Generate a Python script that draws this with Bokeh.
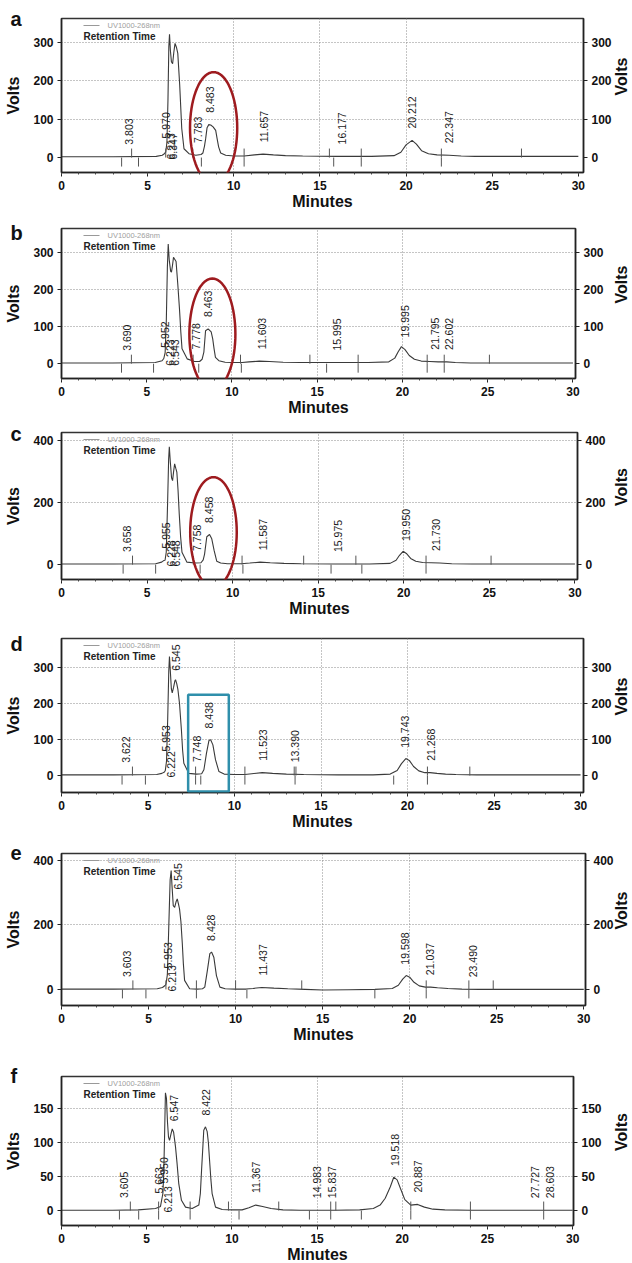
import numpy as np
from bokeh.plotting import figure
from bokeh.layouts import column
from bokeh.models import Range1d, LinearAxis, FixedTicker, PolyAnnotation, BoxAnnotation, Title
from bokeh.embed import file_html
from bokeh.resources import INLINE
from bokeh.core.properties import value

# ------------------------------------------------------------------ data
a_time = [0, 3.0, 5.5, 5.85, 5.97, 6.05, 6.12, 6.18, 6.23, 6.27, 6.32, 6.38, 6.45, 6.52, 6.59,
          6.67, 6.75, 6.86, 6.98, 7.11, 7.4, 7.8, 8.1, 8.21, 8.3, 8.37, 8.45, 8.55, 8.66, 8.8,
          8.95, 9.03, 9.12, 9.24, 9.53, 10.0, 10.6, 11.2, 11.7, 12.3, 13.0, 14.0, 16.0, 18.0,
          19.3, 19.7, 20.0, 20.35, 20.6, 20.9, 21.3, 21.8, 22.5, 23.2, 24.0, 26.0, 30.0]
a_volts = [2, 2, 3, 6, 10, 14, 40, 150, 290, 322, 280, 250, 245, 275, 298,
           288, 272, 190, 76, 23, 10, 6, 8, 12, 30, 50, 78, 86, 85, 80,
           71, 50, 28, 12, 6, 4, 4, 7, 9, 7, 5, 4, 3, 3,
           5, 14, 33, 45, 35, 18, 10, 7, 6, 4, 3, 3, 3]
a_peaks = ["3.803", "5.970", "6.213", "6.347", "7.783", "8.483", "11.657", "16.177", "20.212", "22.347"]
a_low = ["6.213", "6.347"]
a_marks_up = [4.07, 6.05, 7.62, 10.6, 15.55, 17.4, 22.05, 26.7]
a_marks_down = [3.49, 4.47, 8.12, 10.6, 15.8, 17.4, 22.05]

b_time = [0, 3.0, 5.5, 5.9, 6.0, 6.08, 6.15, 6.21, 6.26, 6.32, 6.4, 6.45, 6.51, 6.57, 6.64,
          6.72, 6.82, 6.92, 7.0, 7.07, 7.37, 7.8, 8.1, 8.25, 8.35, 8.45, 8.6, 8.78, 8.87, 8.95,
          9.03, 9.23, 9.6, 10.0, 10.6, 11.0, 11.6, 12.2, 13.0, 14.0, 16.0, 18.0, 19.2, 19.55,
          19.75, 19.94, 20.15, 20.4, 20.7, 21.1, 21.6, 22.1, 22.6, 23.1, 24.0, 26.0, 30.0]
b_volts = [2, 2, 3, 8, 14, 30, 120, 260, 323, 280, 250, 247, 265, 287, 282,
           276, 215, 148, 85, 40, 13, 6, 6, 12, 31, 89, 94, 86, 67, 40,
           17, 8, 4, 3, 3, 5, 7, 6, 4, 3, 3, 3, 5, 15,
           32, 46, 38, 22, 12, 7, 6, 5, 5, 3, 2, 2, 2]
b_peaks = ["3.690", "5.952", "6.223", "6.543", "7.778", "8.463", "11.603", "15.995", "19.995", "21.795", "22.602"]
b_low = ["6.223", "6.543"]
b_marks_up = [4.1, 7.72, 10.5, 14.57, 17.4, 21.45, 22.45, 25.1]
b_marks_down = [3.52, 5.4, 8.05, 10.55, 15.55, 17.4, 21.45, 22.45]

c_time = [0, 3.0, 5.5, 5.85, 5.97, 6.05, 6.12, 6.2, 6.26, 6.3, 6.36, 6.43, 6.49, 6.55, 6.61,
          6.68, 6.74, 6.81, 6.88, 6.96, 7.04, 7.33, 7.8, 8.15, 8.28, 8.36, 8.49, 8.65, 8.78,
          8.92, 9.07, 9.3, 9.7, 10.5, 11.0, 11.6, 12.2, 13.0, 14.0, 16.0, 18.0, 19.2, 19.55,
          19.75, 19.96, 20.15, 20.4, 20.7, 21.1, 21.6, 22.1, 22.8, 24.0, 30.0]
c_volts = [2, 2, 3, 8, 13, 14, 40, 200, 340, 380, 330, 280, 271, 300, 325,
           310, 298, 240, 163, 90, 40, 8, 5, 6, 15, 34, 90, 97, 83,
           45, 11, 5, 3, 3, 5, 8, 6, 4, 3, 2, 2, 4, 14,
           30, 43, 36, 20, 11, 7, 6, 5, 3, 2, 2]
c_peaks = ["3.658", "5.955", "6.228", "6.548", "7.758", "8.458", "11.587", "15.975", "19.950", "21.730"]
c_low = ["6.228", "6.548"]
c_marks_up = [4.15, 7.7, 10.55, 14.15, 17.2, 21.3, 25.1]
c_marks_down = [3.6, 5.5, 8.1, 10.6, 15.75, 17.55, 21.3]

d_time = [0, 3.0, 5.5, 5.8, 5.95, 6.0, 6.07, 6.14, 6.2, 6.24, 6.29, 6.35, 6.4, 6.48, 6.55,
          6.59, 6.66, 6.73, 6.82, 6.93, 7.0, 7.07, 7.36, 7.8, 8.1, 8.23, 8.38, 8.52, 8.62,
          8.75, 8.9, 9.1, 9.4, 10.0, 10.6, 11.0, 11.6, 12.2, 13.0, 14.0, 16.0, 18.0, 19.0,
          19.4, 19.65, 19.9, 20.1, 20.35, 20.65, 21.0, 21.3, 21.7, 22.2, 22.8, 24.0, 30.0]
d_volts = [2, 2, 3, 6, 10, 14, 40, 160, 290, 330, 290, 240, 229, 245, 262,
           266, 255, 238, 200, 127, 70, 34, 6, 4, 5, 16, 62, 97, 99,
           85, 44, 11, 4, 3, 3, 5, 8, 6, 4, 3, 2, 2, 4,
           14, 33, 47, 42, 25, 13, 8, 8, 6, 4, 3, 2, 2]
d_peaks = ["3.622", "5.953", "6.222", "6.545", "7.748", "8.438", "11.523", "13.390", "19.743", "21.268"]
d_low = ["6.222"]
d_marks_up = [4.1, 7.75, 10.6, 13.45, 13.55, 21.15, 23.6]
d_marks_down = [3.5, 4.85, 7.75, 8.05, 10.6, 13.5, 19.2, 21.15]

e_time = [0, 3.0, 5.5, 5.8, 5.95, 6.0, 6.08, 6.16, 6.24, 6.3, 6.35, 6.42, 6.5, 6.58, 6.65,
          6.72, 6.78, 6.86, 6.94, 7.0, 7.07, 7.36, 7.8, 8.1, 8.23, 8.38, 8.52, 8.62, 8.75,
          8.9, 9.1, 9.4, 10.0, 10.6, 11.0, 11.5, 12.2, 13.0, 14.0, 15.0, 16.5, 18.0, 19.0,
          19.35, 19.6, 19.8, 20.0, 20.25, 20.55, 20.9, 21.2, 21.6, 22.2, 23.0, 24.0, 30.0]
e_volts = [1, 1, 2, 6, 12, 16, 45, 190, 340, 369, 320, 260, 255, 272, 281,
           265, 250, 210, 142, 80, 28, 2, 1, 2, 7, 59, 111, 116, 100,
           43, 7, 2, 1, 1, 3, 6, 4, 2, 0, -2, -1, 0, 3,
           13, 32, 43, 38, 22, 11, 7, 7, 5, 3, 1, 0, 0]
e_peaks = ["3.603", "5.953", "6.213", "6.545", "8.428", "11.437", "19.598", "21.037", "23.490"]
e_low = ["6.213"]
e_marks_up = [4.1, 6.0, 7.75, 10.0, 13.8, 20.95, 23.4, 24.8]
e_marks_down = [3.5, 4.85, 7.75, 10.65, 18.0, 20.95, 23.4]

f_time = [0, 3.0, 4.5, 5.52, 5.81, 5.95, 6.0, 6.05, 6.1, 6.16, 6.22, 6.28, 6.34, 6.42, 6.5,
          6.58, 6.69, 6.78, 6.88, 7.04, 7.28, 7.67, 8.06, 8.15, 8.22, 8.3, 8.35, 8.45, 8.55,
          8.62, 8.69, 8.77, 8.84, 9.04, 9.43, 10.0, 10.6, 11.0, 11.4, 11.8, 12.3, 13.0, 14.0,
          16.0, 17.5, 18.3, 18.7, 19.0, 19.3, 19.5, 19.7, 19.9, 20.15, 20.5, 20.9, 21.3, 21.8,
          22.5, 24.0, 30.0]
f_volts = [0.5, 0.5, 1, 3, 6, 25, 54, 110, 173, 165, 130, 108, 103, 112, 120,
           115, 94, 70, 40, 15, 5, 3, 8, 25, 59, 95, 118, 123, 116,
           100, 74, 45, 25, 5, 1.5, 1, 1, 4, 8, 6, 3, 1, 0.5,
           0.5, 1, 3, 8, 18, 35, 49, 45, 32, 16, 8, 9, 5, 2,
           1, 0.5, 0.5]
f_peaks = ["3.605", "5.663", "5.950", "6.213", "6.547", "8.422", "11.367", "14.983", "15.837",
           "19.518", "20.887", "27.727", "28.603"]
f_low = ["6.213"]
f_marks_up = [4.04, 5.7, 7.55, 9.8, 12.75, 15.8, 16.1, 20.5, 24.0, 28.3]
f_marks_down = [3.4, 4.53, 5.7, 7.55, 10.42, 14.55, 15.8, 17.6, 20.5, 24.0, 28.3]

x_ticks = [0, 5, 10, 15, 20, 25, 30]
legend_name = "UV1000-268nm"
legend_sub = "Retention Time"

PANELS = [
    dict(letter="a", time=a_time, volts=a_volts, peaks=a_peaks, low=a_low, up=a_marks_up, down=a_marks_down,
         yticks=[0, 100, 200, 300]),
    dict(letter="b", time=b_time, volts=b_volts, peaks=b_peaks, low=b_low, up=b_marks_up, down=b_marks_down,
         yticks=[0, 100, 200, 300]),
    dict(letter="c", time=c_time, volts=c_volts, peaks=c_peaks, low=c_low, up=c_marks_up, down=c_marks_down,
         yticks=[0, 200, 400]),
    dict(letter="d", time=d_time, volts=d_volts, peaks=d_peaks, low=d_low, up=d_marks_up, down=d_marks_down,
         yticks=[0, 100, 200, 300]),
    dict(letter="e", time=e_time, volts=e_volts, peaks=e_peaks, low=e_low, up=e_marks_up, down=e_marks_down,
         yticks=[0, 200, 400]),
    dict(letter="f", time=f_time, volts=f_volts, peaks=f_peaks, low=f_low, up=f_marks_up, down=f_marks_down,
         yticks=[0, 50, 100, 150]),
]

# ------------------------------------------------------------------ styling / layout
FONT = "Liberation Sans"
RED = "#9e1b1f"
TEAL = "#2f8fab"
LEFT = 61
STYLE = [
    dict(fw=522, fh=154, bt=18, bb=43, ymin=-39, ymax=363, xend=30.3, xoff=0.12, lstand=-23,
         bump={"5.970": 19}, ellipse=(8.83, 77.5, 1.37, 145.5)),
    dict(fw=514, fh=150, bt=13, bb=42, ymin=-40, ymax=365, xend=30.15, xoff=0.14, lstand=-31,
         bump={"5.952": 16}, ellipse=(8.85, 80, 1.35, 150)),
    dict(fw=516, fh=147, bt=12, bb=51, ymin=-48, ymax=426, xend=30.15, xoff=0.16, lstand=-25,
         bump={"5.955": 16}, ellipse=(8.88, 104.5, 1.36, 177.5)),
    dict(fw=522, fh=154, bt=8, bb=48, ymin=-47, ymax=380, xend=30.17, xoff=0.10, lstand=-33,
         bump={"5.953": 24}, rect=(7.32, 9.67, 224)),
    dict(fw=524, fh=152, bt=13, bb=45, ymin=-50, ymax=422, xend=30.1, xoff=0.14, lstand=-13,
         bump={"5.953": 21}),
    dict(fw=512, fh=149, bt=26, bb=38, ymin=-22, ymax=197, xend=30.05, xoff=0.04, lstand=-21,
         bump={"5.663": 17, "5.950": 27}),
]

HAS_ORIENT = "axis_label_orientation" in LinearAxis.properties()


def style_axis(ax):
    ax.major_label_text_font = FONT
    ax.major_label_text_font_style = "bold"
    ax.major_label_text_font_size = "12px"
    ax.major_label_text_color = "#111"
    ax.axis_label_text_font = FONT
    ax.axis_label_text_font_style = "bold"
    ax.axis_label_text_font_size = "16px"
    ax.axis_label_text_color = "#111"
    ax.axis_line_color = "#222"
    ax.axis_line_width = 1.5
    ax.major_tick_line_color = "#222"
    ax.minor_tick_line_color = "#444"
    ax.major_tick_out = 4
    ax.major_tick_in = 0
    ax.minor_tick_out = 2
    ax.minor_tick_in = 0
    ax.major_label_standoff = 4


def build(d, s):
    fw, fh = s["fw"], s["fh"]
    x0, x1 = 0.0, s["xend"]
    y0, y1 = s["ymin"], s["ymax"]
    ppx = fw / (x1 - x0)
    ppu = fh / (y1 - y0)
    p = figure(frame_width=fw, frame_height=fh, x_range=Range1d(x0, x1), y_range=Range1d(y0, y1),
               output_backend="svg", toolbar_location=None,
               min_border_left=LEFT, min_border_right=632 - LEFT - fw,
               min_border_top=s["bt"], min_border_bottom=s["bb"])
    p.background_fill_color = "white"
    p.border_fill_color = "white"
    p.outline_line_color = "#333"
    p.outline_line_width = 1.5

    # panel letter as a title pulled down beside the frame
    p.add_layout(Title(text=d["letter"], align="left", offset=-51, standoff=s["lstand"],
                       text_font=FONT, text_font_style="bold", text_font_size="20px",
                       text_color="#111"), "above")

    p.xaxis.ticker = FixedTicker(ticks=x_ticks, minor_ticks=list(range(0, 31)))
    p.xaxis.axis_label = "Minutes"
    p.yaxis.ticker = FixedTicker(ticks=d["yticks"])
    p.yaxis.axis_label = "Volts"
    right = LinearAxis(ticker=FixedTicker(ticks=d["yticks"]), axis_label="Volts")
    p.add_layout(right, "right")
    for ax in [p.xaxis[0], p.yaxis[0], right]:
        style_axis(ax)
    p.xaxis.axis_label_standoff = 0
    p.yaxis.axis_label_standoff = 8
    right.axis_label_standoff = (625 - LEFT - fw) - 35
    if HAS_ORIENT:
        right.axis_label_orientation = np.pi / 2

    p.xgrid.ticker = FixedTicker(ticks=[10, 15, 20])
    p.ygrid.ticker = FixedTicker(ticks=[t for t in d["yticks"] if t > 0])
    for g in [p.xgrid[0], p.ygrid[0]]:
        g.grid_line_color = "#8a8a8a"
        g.grid_line_dash = "1 2"
        g.grid_line_width = 1

    tt = np.array(d["time"], dtype=float)
    vv = np.array(d["volts"], dtype=float)
    p.line(tt, vv, line_color="#3a3a3a", line_width=1.1)

    # integration marks on the baseline
    L = 9 / ppu
    up = d["up"]
    dn = d["down"]
    p.segment(x0=up, y0=[0] * len(up), x1=up, y1=[L] * len(up), line_color="#555", line_width=1)
    p.segment(x0=dn, y0=[0] * len(dn), x1=dn, y1=[-L] * len(dn), line_color="#555", line_width=1)

    # peak retention-time labels
    xs, ys = [], []
    for lab in d["peaks"]:
        xl = float(lab) + s["xoff"]
        if lab in d["low"]:
            bottom = -2
        elif lab in s["bump"]:
            bottom = s["bump"][lab]
        else:
            bottom = max(np.interp(xl, tt, vv), 0) * ppu + 12
        xs.append(xl)
        ys.append(bottom / ppu)
    p.text(x=xs, y=ys, text=d["peaks"], angle=np.pi / 2, text_align="left", text_baseline="middle",
           text_font=value(FONT), text_font_size="10.5px", text_color="#1a1a1a")

    # legend (top-left, inside frame)
    p.segment(x0=[22 / ppx], y0=[y1 - 7 / ppu], x1=[38 / ppx], y1=[y1 - 7 / ppu],
              line_color="#999", line_width=1)
    p.text(x=[46 / ppx], y=[y1 - 7 / ppu], text=[legend_name], text_align="left", text_baseline="middle",
           text_font=value(FONT), text_font_size="7.5px", text_color="#a0a0a0")
    p.text(x=[22 / ppx], y=[y1 - 18 / ppu], text=[legend_sub], text_align="left", text_baseline="middle",
           text_font=value(FONT), text_font_style="bold", text_font_size="10px", text_color="#222")

    # highlight shapes
    if "ellipse" in s:
        xc, yc, rx, ry = s["ellipse"]
        th = np.linspace(0, 2 * np.pi, 73)
        p.add_layout(PolyAnnotation(xs=list(xc + rx * np.cos(th)), ys=list(yc + ry * np.sin(th)),
                                    fill_color=None, fill_alpha=0, line_color=RED, line_alpha=1,
                                    line_width=2.5))
    if "rect" in s:
        l, r, top = s["rect"]
        p.add_layout(BoxAnnotation(left=l, right=r, bottom=y0 + 1 / ppu, top=top, fill_color=None,
                                   fill_alpha=0, line_color=TEAL, line_alpha=1, line_width=2.5))
    return p


figs = [build(d, s) for d, s in zip(PANELS, STYLE)]
page = column(*figs, spacing=0)
open("out.html", "w").write(file_html(page, INLINE))
